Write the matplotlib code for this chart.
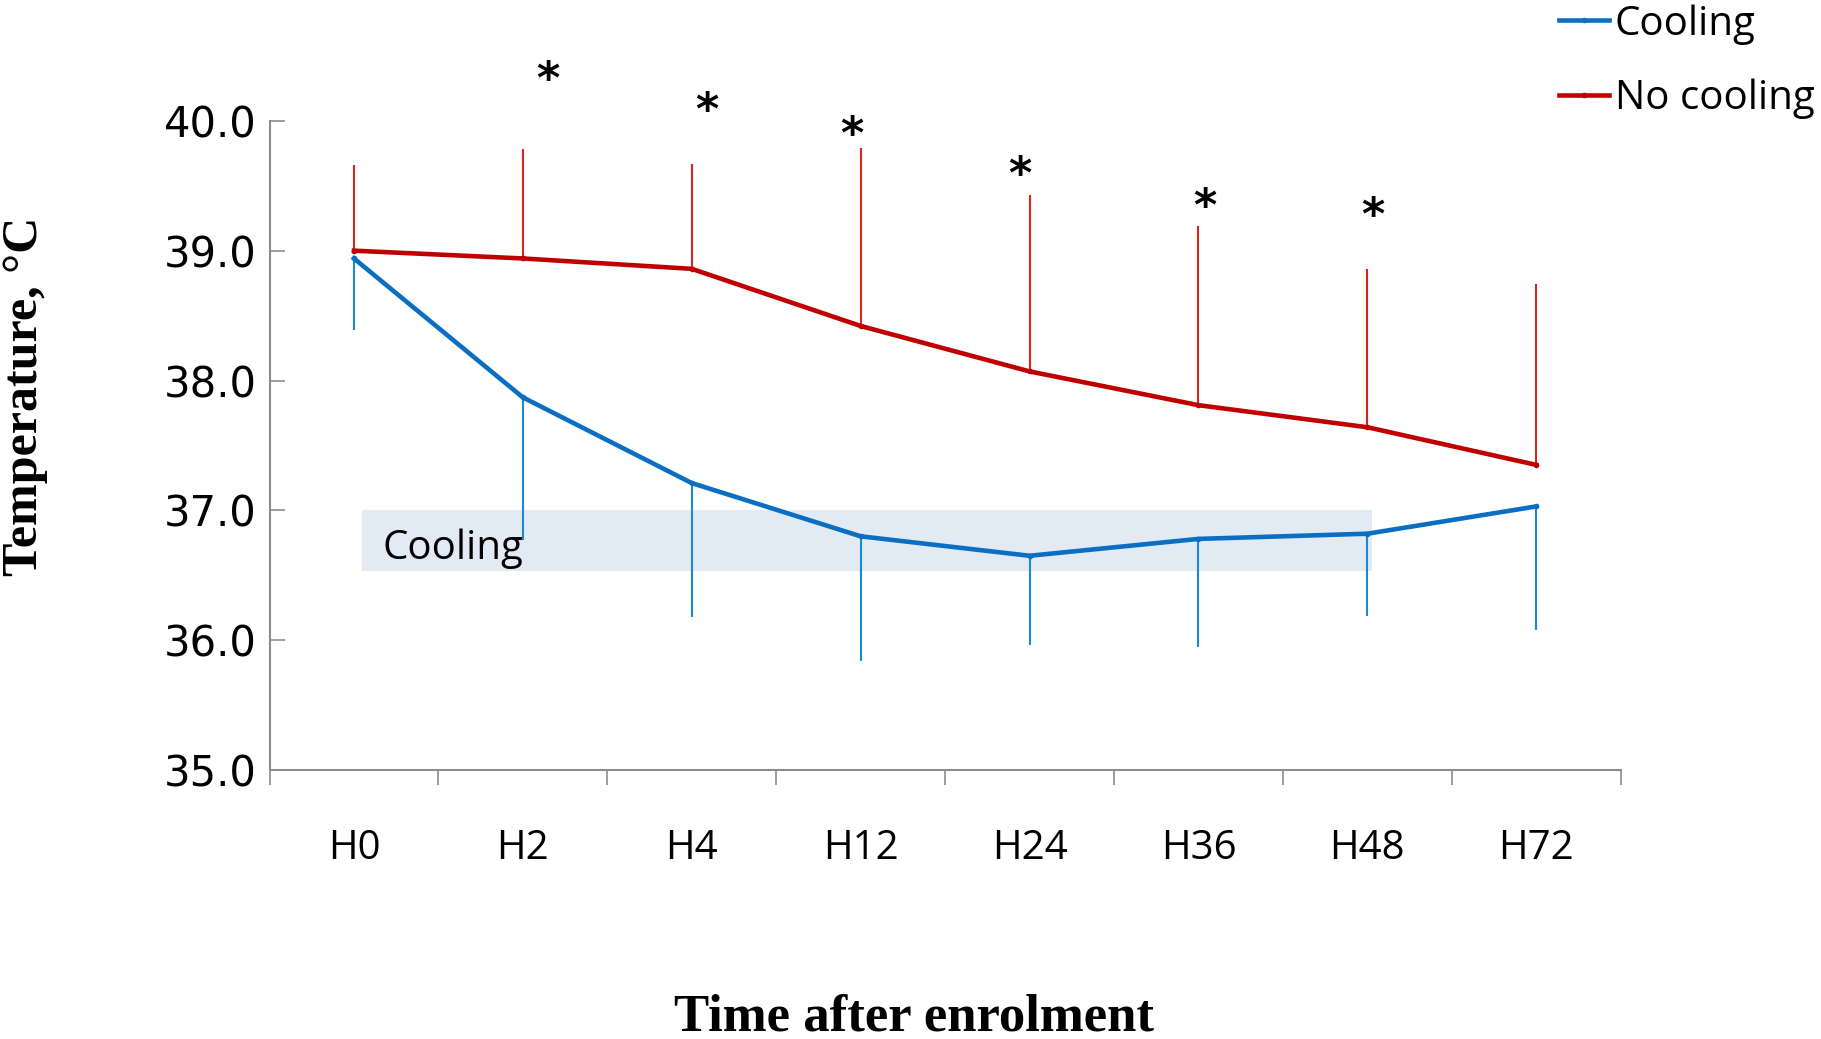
import matplotlib
matplotlib.use("Agg")
import matplotlib.pyplot as plt
import numpy as np

# Time points after enrolment
timepoints = ["H0", "H2", "H4", "H12", "H24", "H36", "H48", "H72"]

# Mean temperature (°C) per group
cooling_mean = [38.94, 37.87, 37.21, 36.80, 36.65, 36.78, 36.82, 37.03]
no_cooling_mean = [39.00, 38.94, 38.86, 38.42, 38.07, 37.81, 37.64, 37.35]

# One-sided error bar ends (cooling downward, no cooling upward)
cooling_low = [38.39, 36.77, 36.18, 35.84, 35.96, 35.95, 36.19, 36.08]
no_cooling_high = [39.66, 39.78, 39.67, 39.79, 39.43, 39.19, 38.86, 38.74]

# Significance markers
star_x = [1.15, 2.09, 2.95, 3.94, 5.04, 6.03]
star_y = [40.31, 40.07, 39.89, 39.58, 39.33, 39.26]

# Cooling period band
band_start, band_end = 0.05, 6.03
band_low, band_high = 36.53, 37.0

yticks = [35, 36, 37, 38, 39, 40]

BLUE = "#0a6fc2"
BLUE_BAR = "#1a8ad4"
RED = "#c00000"
RED_BAR = "#d8261a"
GREY = "#8c8c8c"

fig = plt.figure(figsize=(18.21, 10.39), dpi=100)
ax = fig.add_axes([0.148, 0.2589, 0.742, 0.6248])

x = np.arange(len(timepoints))

# shaded cooling period
ax.fill_between([band_start, band_end], band_low, band_high,
                color="#e2eaf4", lw=0, zorder=1)
ax.text(band_start + 0.12, (band_low + band_high) / 2 - 0.06, "Cooling",
        fontsize=29, family="Open Sans", va="center", ha="left", zorder=5)

# error bars
ax.vlines(x, cooling_low, cooling_mean, color=BLUE_BAR, lw=1.5, zorder=2)
ax.vlines(x, no_cooling_mean, no_cooling_high, color=RED_BAR, lw=1.5, zorder=2)

# mean lines
ax.plot(x, cooling_mean, color=BLUE, lw=3.3, marker="o", ms=3,
        label="Cooling", zorder=3)
ax.plot(x, no_cooling_mean, color=RED, lw=3.3, marker="o", ms=3,
        label="No cooling", zorder=3)

for sx, sy in zip(star_x, star_y):
    ax.text(sx, sy, "*", fontsize=32, fontweight="bold", family="DejaVu Sans",
            ha="center", va="center", clip_on=False)

ax.set_xlim(-0.5, len(timepoints) - 0.5)
ax.set_ylim(35, 40)

# category boundaries as ticks, labels centred in each slot
ax.set_xticks(np.arange(-0.5, len(timepoints)), labels=[""] * (len(timepoints) + 1))
ax.set_xticks(x, labels=timepoints, minor=True)
ax.tick_params(axis="x", which="major", direction="out", length=11,
               width=1.2, color=GREY)
ax.tick_params(axis="x", which="minor", length=0, pad=42, labelsize=29)
for lab in ax.get_xticklabels(minor=True):
    lab.set_family("Open Sans")

ax.set_yticks(yticks, labels=[f"{v:.1f}" for v in yticks])
ax.tick_params(axis="y", direction="in", length=11, width=1.2, color=GREY,
               pad=9, labelsize=30)
for lab in ax.get_yticklabels():
    lab.set_family("DejaVu Sans")

for side in ("top", "right"):
    ax.spines[side].set_visible(False)
for side in ("left", "bottom"):
    ax.spines[side].set_color(GREY)
    ax.spines[side].set_linewidth(1.5)

ax.set_ylabel("Temperature, °C", fontsize=36, fontweight="bold",
              family="Liberation Serif", va="center")
ax.yaxis.set_label_coords(-0.181, 0.575)
ax.set_xlabel("Time after enrolment", fontsize=38, fontweight="bold",
              family="Liberation Serif", va="center")
ax.xaxis.set_label_coords(0.477, -0.382)

fig.legend(loc="upper left", bbox_to_anchor=(0.836, 1.031),
           frameon=False, handlelength=1.25,
           handletextpad=0.15, labelspacing=0.85,
           prop={"family": "Open Sans", "size": 29})

fig.savefig("out.png", dpi=100)
